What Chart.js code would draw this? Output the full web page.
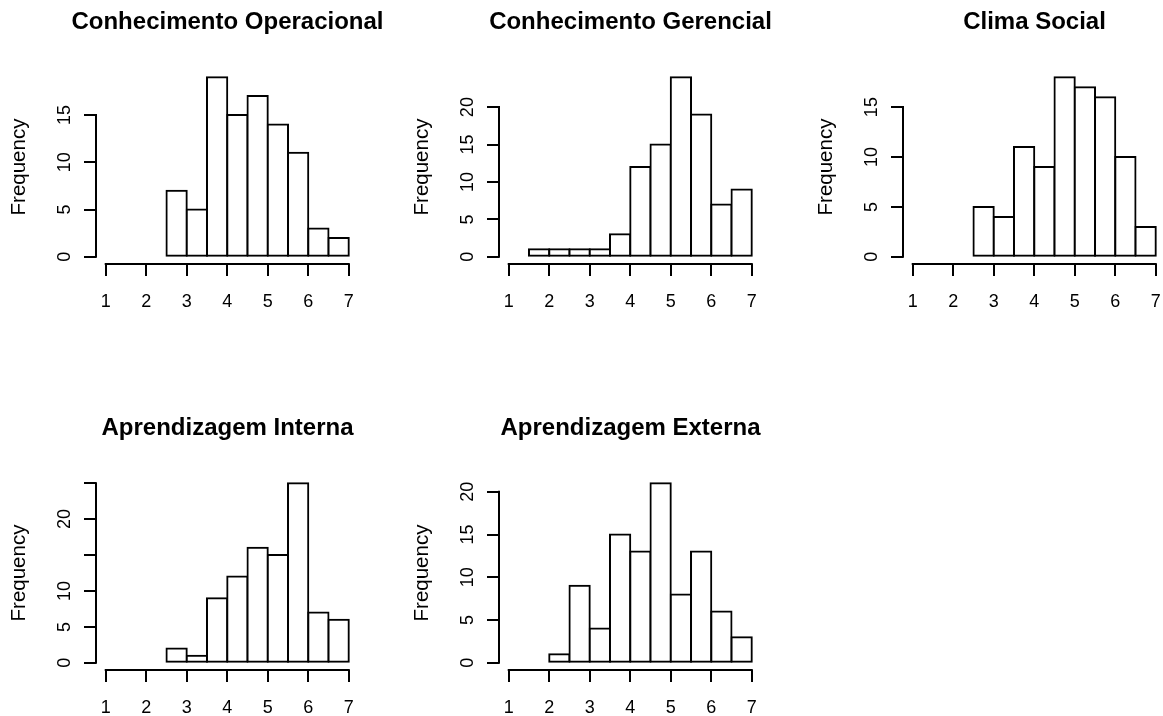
<!DOCTYPE html>
<html>
<head>
<meta charset="utf-8">
<title>Histogramas</title>
<script src="https://cdn.jsdelivr.net/npm/chart.js@4.4.1/dist/chart.umd.min.js"></script>
<style>
  html, body { margin: 0; padding: 0; background: #fff; overflow: hidden; }
  .panel { position: absolute; width: 455px; height: 400px; }
</style>
</head>
<body>
<div class="panel" style="left:0px;top:0px"><canvas id="co" width="455" height="400"></canvas></div>
<div class="panel" style="left:403px;top:0px"><canvas id="cg" width="455" height="400"></canvas></div>
<div class="panel" style="left:807px;top:0px"><canvas id="cs" width="455" height="400"></canvas></div>
<div class="panel" style="left:0px;top:406px"><canvas id="ai" width="455" height="400"></canvas></div>
<div class="panel" style="left:403px;top:406px"><canvas id="ae" width="455" height="400"></canvas></div>
<script>
// shared x axis ticks
const xTicks = [1, 2, 3, 4, 5, 6, 7];

// Conhecimento Operacional
const binsCO = [2.75, 3.25, 3.75, 4.25, 4.75, 5.25, 5.75, 6.25, 6.75];
const countsCO = [7, 5, 19, 15, 17, 14, 11, 3, 2];
const yTicksCO = [0, 5, 10, 15];
const yLabelsCO = ['0', '5', '10', '15'];

// Conhecimento Gerencial
const binsCG = [1.75, 2.25, 2.75, 3.25, 3.75, 4.25, 4.75, 5.25, 5.75, 6.25, 6.75];
const countsCG = [1, 1, 1, 1, 3, 12, 15, 24, 19, 7, 9];
const yTicksCG = [0, 5, 10, 15, 20];
const yLabelsCG = ['0', '5', '10', '15', '20'];

// Clima Social
const binsCS = [2.75, 3.25, 3.75, 4.25, 4.75, 5.25, 5.75, 6.25, 6.75];
const countsCS = [5, 4, 11, 9, 18, 17, 16, 10, 3];
const yTicksCS = [0, 5, 10, 15];
const yLabelsCS = ['0', '5', '10', '15'];

// Aprendizagem Interna
const binsAI = [2.75, 3.25, 3.75, 4.25, 4.75, 5.25, 5.75, 6.25, 6.75];
const countsAI = [2, 1, 9, 12, 16, 15, 25, 7, 6];
const yTicksAI = [0, 5, 10, 15, 20, 25];
const yLabelsAI = ['0', '5', '10', '', '20', ''];

// Aprendizagem Externa
const binsAE = [2.25, 2.75, 3.25, 3.75, 4.25, 4.75, 5.25, 5.75, 6.25, 6.75];
const countsAE = [1, 9, 4, 15, 13, 21, 8, 13, 6, 3];
const yTicksAE = [0, 5, 10, 15, 20];
const yLabelsAE = ['0', '5', '10', '15', '20'];

Chart.defaults.font.family = "'Liberation Sans', Arial, sans-serif";
Chart.defaults.color = '#000';

// R draws the axis line only between the first and last tick
const rAxisLines = {
  id: 'rAxisLines',
  afterDraw(chart) {
    const { ctx, scales: { x, y } } = chart;
    const yt = y.ticks;
    ctx.save();
    ctx.strokeStyle = '#000';
    ctx.lineWidth = 2;
    ctx.lineCap = 'square';
    ctx.beginPath();
    ctx.moveTo(x.getPixelForValue(xTicks[0]), x.top);
    ctx.lineTo(x.getPixelForValue(xTicks[xTicks.length - 1]), x.top);
    ctx.moveTo(y.right, y.getPixelForValue(yt[0].value));
    ctx.lineTo(y.right, y.getPixelForValue(yt[yt.length - 1].value));
    ctx.stroke();
    ctx.restore();
  }
};

const tickGrid = {
  drawOnChartArea: false,
  drawTicks: true,
  tickLength: 12,
  color: '#000',
  tickColor: '#000',
  lineWidth: 2,
  offset: false
};

function makeChart(id, title, bins, counts, yTicks, yLabels) {
  const ymax = Math.max(...counts);
  const xspan = xTicks[xTicks.length - 1] - xTicks[0];
  return new Chart(document.getElementById(id), {
    type: 'bar',
    data: {
      datasets: [{
        data: bins.map((b, i) => ({ x: b, y: counts[i] })),
        backgroundColor: '#fff',
        borderColor: '#000',
        borderWidth: 2,
        borderSkipped: false,
        inflateAmount: 1,
        barPercentage: 1,
        categoryPercentage: 1
      }]
    },
    plugins: [rAxisLines],
    options: {
      responsive: false,
      animation: false,
      events: [],
      layout: { padding: { top: 0, left: 0, right: 0, bottom: 76 } },
      plugins: {
        legend: { display: false },
        tooltip: { enabled: false },
        title: {
          display: true,
          text: title,
          color: '#000',
          font: { size: 24, weight: 'bold' },
          padding: { top: 7.6, bottom: 33.6 }
        }
      },
      scales: {
        x: {
          type: 'linear',
          min: xTicks[0] - 0.04 * xspan,
          max: xTicks[xTicks.length - 1] + 0.04 * xspan,
          offset: false,
          afterBuildTicks: s => { s.ticks = xTicks.map(v => ({ value: v })); },
          afterFit: s => { s.height = 60; },
          border: { display: false },
          grid: tickGrid,
          ticks: { font: { size: 18 }, padding: 15, autoSkip: false, maxRotation: 0, color: '#000' }
        },
        y: {
          min: -0.04 * ymax,
          max: 1.04 * ymax,
          afterBuildTicks: s => { s.ticks = yTicks.map(v => ({ value: v })); },
          afterFit: s => { s.width = 96; },
          border: { display: false },
          grid: tickGrid,
          ticks: {
            font: { size: 18 },
            padding: 9,
            autoSkip: false,
            minRotation: 90,
            maxRotation: 90,
            crossAlign: 'center',
            color: '#000',
            callback: (v, i) => yLabels[i]
          },
          title: {
            display: true,
            text: 'Frequency',
            color: '#000',
            font: { size: 20.5 },
            padding: { top: 7, bottom: 0 }
          }
        },
        // empty right margin, same width as the y axis, so the title centres over the plot
        spacer: {
          type: 'linear',
          position: 'right',
          grid: { display: false },
          border: { display: false },
          ticks: { display: false },
          afterFit: s => { s.width = 96.5; }
        }
      }
    }
  });
}

makeChart('co', 'Conhecimento Operacional', binsCO, countsCO, yTicksCO, yLabelsCO);
makeChart('cg', 'Conhecimento Gerencial', binsCG, countsCG, yTicksCG, yLabelsCG);
makeChart('cs', 'Clima Social', binsCS, countsCS, yTicksCS, yLabelsCS);
makeChart('ai', 'Aprendizagem Interna', binsAI, countsAI, yTicksAI, yLabelsAI);
makeChart('ae', 'Aprendizagem Externa', binsAE, countsAE, yTicksAE, yLabelsAE);
</script>
</body>
</html>
